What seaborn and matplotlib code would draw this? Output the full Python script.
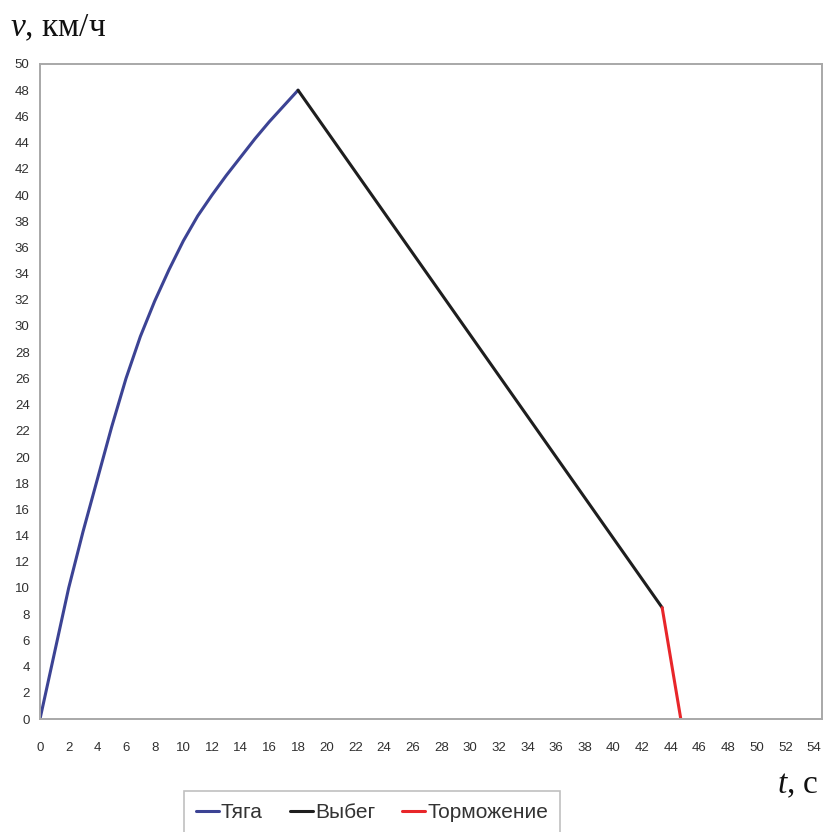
import matplotlib
matplotlib.use("Agg")
import matplotlib.pyplot as plt
import seaborn as sns
import pandas as pd

# Speed vs. time for one run: traction, coasting and braking phases
phases = ["Тяга", "Выбег", "Торможение"]
traction_t = [0, 1, 2, 3, 4, 5, 6, 7, 8, 9, 10, 11, 12, 13, 14, 15, 16, 17, 18]
traction_v = [0, 5.0, 10.0, 14.3, 18.3, 22.3, 26.0, 29.2, 31.9, 34.3, 36.5,
              38.4, 40.0, 41.5, 42.9, 44.3, 45.6, 46.8, 48.0]
coast_t = [18, 43.4]
coast_v = [48.0, 8.5]
brake_t = [43.4, 44.7]
brake_v = [8.5, 0.0]

x_ticks = list(range(0, 55, 2))
y_ticks = list(range(0, 51, 2))

phase_colors = {"Тяга": "#3c4394", "Выбег": "#1e1e1e", "Торможение": "#e8262a"}

df = pd.concat([
    pd.DataFrame({"t": traction_t, "v": traction_v, "phase": phases[0]}),
    pd.DataFrame({"t": coast_t, "v": coast_v, "phase": phases[1]}),
    pd.DataFrame({"t": brake_t, "v": brake_v, "phase": phases[2]}),
], ignore_index=True)

sns.set_style("white")
plt.rcParams["font.family"] = ["Liberation Sans", "DejaVu Sans"]
plt.rcParams["mathtext.fontset"] = "custom"
plt.rcParams["mathtext.it"] = "Liberation Serif:italic"
plt.rcParams["mathtext.rm"] = "Liberation Serif"

W, H = 825, 832
fig = plt.figure(figsize=(W / 100, H / 100), dpi=100)
ax = fig.add_axes([40 / W, 1 - 719 / H, (822 - 40) / W, (719 - 64) / H])

sns.lineplot(data=df, x="t", y="v", hue="phase", hue_order=phases,
             palette=phase_colors, estimator=None, sort=False,
             linewidth=2.2, ax=ax, legend=True)

ax.set_xlim(0, 54.55)
ax.set_ylim(0, 50)
ax.set_xticks(x_ticks)
ax.set_yticks(y_ticks)
ax.set_xlabel("")
ax.set_ylabel("")

frame_color = "#a8a8a8"
for side in ["left", "right", "top", "bottom"]:
    ax.spines[side].set_visible(True)
    ax.spines[side].set_color(frame_color)
    ax.spines[side].set_linewidth(1.4)

tick_color = "#303030"
ax.tick_params(axis="y", direction="out", length=3.5, width=0.8,
               color=frame_color, pad=4, labelsize=9.5, labelcolor=tick_color)
ax.tick_params(axis="x", direction="inout", length=5, width=0.8,
               color=frame_color, pad=14, labelsize=9.5, labelcolor=tick_color)

# Axis captions in a serif face, variable names in italics
fig.text(10 / W, 1 - 36 / H, r"$v$, км/ч", family=["Liberation Serif", "DejaVu Serif"],
         fontsize=24, ha="left", va="baseline", color="#111111")
fig.text(819 / W, 1 - 793 / H, r"$t$, с", family=["Liberation Serif", "DejaVu Serif"],
         fontsize=24, ha="right", va="baseline", color="#111111")

handles, labels = ax.get_legend_handles_labels()
ax.legend_.remove()
leg = fig.legend(handles, labels, loc="upper center",
                 bbox_to_anchor=(372 / W, 1 - 781 / H), ncol=3,
                 frameon=True, fontsize=15, handlelength=1.1, handletextpad=0.1,
                 columnspacing=1.3, borderpad=0.55, fancybox=False)
leg.get_frame().set_edgecolor("#b0b0b0")
leg.get_frame().set_linewidth(1.2)
for text in leg.get_texts():
    text.set_color("#333333")

fig.savefig("out.png", dpi=100, facecolor="white")
